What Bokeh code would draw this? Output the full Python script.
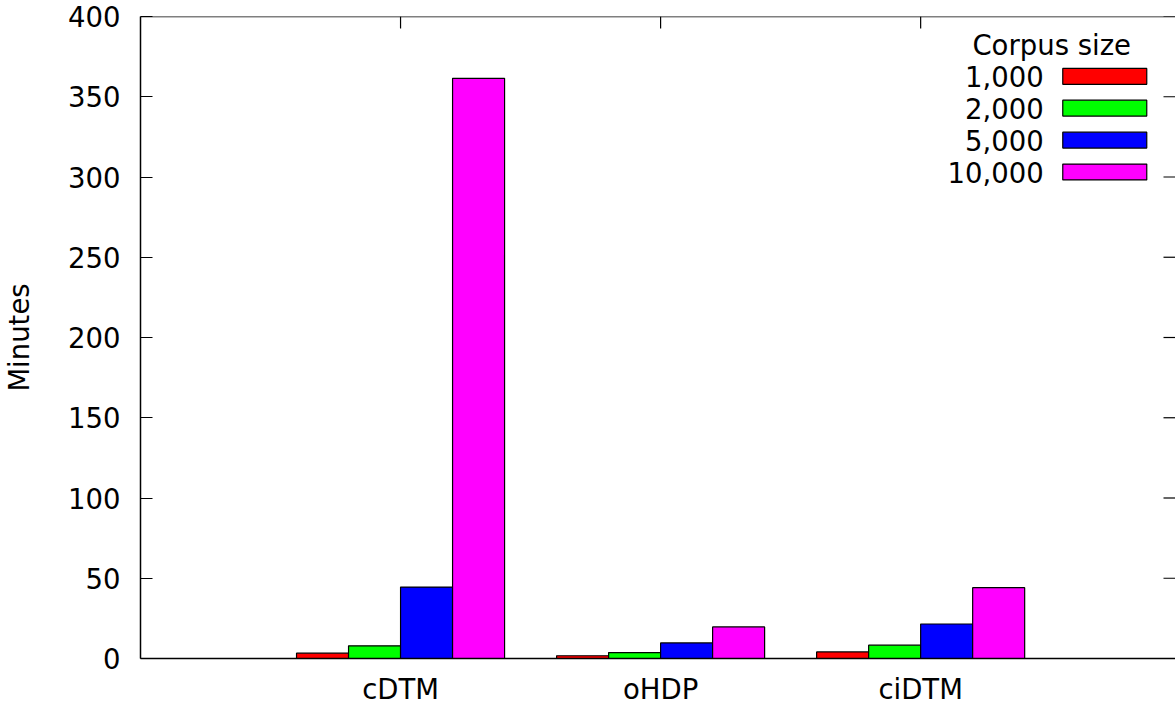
from bokeh.plotting import figure
from bokeh.models import ColumnDataSource, FixedTicker, Range1d, Span
from bokeh.transform import dodge
from bokeh.core.properties import value
from bokeh.embed import file_html
from bokeh.resources import INLINE

# Run time (minutes) per model and corpus size
models = ["cDTM", "oHDP", "ciDTM"]
sizes = ["1,000", "2,000", "5,000", "10,000"]
minutes_1000 = [3.3, 1.7, 4.1]
minutes_2000 = [7.9, 3.7, 8.3]
minutes_5000 = [44.5, 9.7, 21.5]
minutes_10000 = [361.5, 19.7, 44.1]
colors = ["#ff0000", "#00ff00", "#0000ff", "#ff00ff"]
y_ticks = [0, 50, 100, 150, 200, 250, 300, 350, 400]

FONT = "DejaVu Sans"
FS = "27.5px"
X_MIN, X_MAX = -1, 2.98
Y_MIN, Y_MAX = 0, 400

idx = list(range(len(models)))
src = ColumnDataSource(dict(
    idx=idx,
    s1000=minutes_1000,
    s2000=minutes_2000,
    s5000=minutes_5000,
    s10000=minutes_10000,
))

p = figure(width=1175, height=707, output_backend="svg", toolbar_location=None,
           x_range=Range1d(X_MIN, X_MAX), y_range=Range1d(Y_MIN, Y_MAX),
           min_border_left=140, min_border_right=0, min_border_top=16, min_border_bottom=47)
p.outline_line_color = None
p.grid.visible = False
p.background_fill_color = "white"
p.border_fill_color = "white"

cols = ["s1000", "s2000", "s5000", "s10000"]
offsets = [-0.3, -0.1, 0.1, 0.3]
for col, off, c in zip(cols, offsets, colors):
    p.vbar(x=dodge("idx", off, range=p.x_range), top=col, bottom=0, width=0.2,
           source=src, fill_color=c, line_color="black", line_width=1.2)

# axes
xa = p.xaxis[0]
xa.ticker = FixedTicker(ticks=idx)
xa.major_label_overrides = {i: m for i, m in enumerate(models)}
xa.major_tick_in = 12
xa.major_tick_out = 0
xa.minor_tick_line_color = None
xa.major_label_standoff = 14
xa.axis_line_width = 1.5

ya = p.yaxis[0]
ya.ticker = FixedTicker(ticks=y_ticks)
ya.major_tick_in = 12
ya.major_tick_out = 0
ya.minor_tick_line_color = None
ya.major_label_standoff = 20
ya.axis_label = "Minutes"
ya.axis_label_standoff = 30
ya.axis_line_width = 1.5

for ax in (xa, ya):
    ax.major_label_text_font = FONT
    ax.major_label_text_font_size = FS
    ax.major_label_text_color = "black"
    ax.axis_label_text_font = FONT
    ax.axis_label_text_font_size = FS
    ax.axis_label_text_font_style = "normal"
    ax.axis_label_text_color = "black"

# top border and mirrored ticks on top and right
p.add_layout(Span(location=Y_MAX, dimension="width", line_color="black", line_width=1.5))
tick_dy = 12 * (Y_MAX - Y_MIN) / 644
tick_dx = 12 * (X_MAX - X_MIN) / 1035
p.segment(x0=idx, y0=[Y_MAX] * len(idx), x1=idx, y1=[Y_MAX - tick_dy] * len(idx),
          line_color="black", line_width=1.2)
p.segment(x0=[X_MAX] * len(y_ticks), y0=y_ticks, x1=[X_MAX - tick_dx] * len(y_ticks),
          y1=y_ticks, line_color="black", line_width=1.2)

# legend drawn on the canvas: title, labels to the left of swatches
leg_rows = [362.7, 342.9, 323.0, 303.1]
p.text(x=[2.504], y=[382.0], text=["Corpus size"], text_font=value(FONT),
       text_font_size=FS, text_align="center", text_baseline="middle", text_color="black")
p.text(x=[2.473] * 4, y=leg_rows, text=sizes, text_font=value(FONT),
       text_font_size=FS, text_align="right", text_baseline="middle", text_color="black")
p.rect(x=[2.708] * 4, y=leg_rows, width=0.323, height=9.9, fill_color=colors,
       line_color="black", line_width=1.2)

open("out.html", "w").write(file_html(p, INLINE))
